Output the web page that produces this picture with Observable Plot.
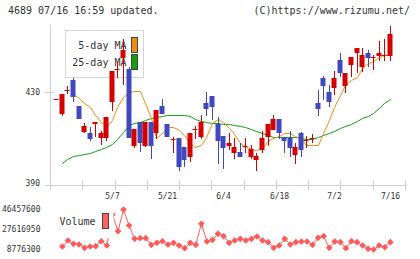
<!DOCTYPE html>
<html><head><meta charset="utf-8">
<script src="https://cdn.jsdelivr.net/npm/d3@7"></script>
<script src="https://cdn.jsdelivr.net/npm/@observablehq/plot@0.6"></script>
<style>
body{margin:0;background:#fff;width:420px;height:259px;overflow:hidden;font-family:"DejaVu Sans Mono",monospace;}
#title{position:relative;height:20px;font-size:10px;line-height:10px;color:#333;}
#title span{position:absolute;top:6px;white-space:pre;}
#title .l{left:8px;}
#title .r{right:10px;}
svg{display:block;}
</style></head><body>
<div id="title"><span class="l">4689 07/16 16:59 updated.</span><span class="r">(C)https://www.rizumu.net/</span></div>
<div id="main"></div>
<div id="vol"></div>
<script>
// ---- data ----
const tickIdx = [10, 20, 30, 40, 50, 60];
const tickLabels = ["5/7", "5/21", "6/4", "6/18", "7/2", "7/16"];
const priceTicks = [390, 430];
const open = [426.8,420.3,430.9,435.3,423.8,412.5,411.8,415.8,409.6,409.6,425.7,440,445.1,440.1,406.3,416.7,406.3,416.7,411.8,423.8,415.9,409.2,409.9,405.8,401.6,413.6,410.4,425.3,428.2,415.9,410.7,406.4,403.3,403.5,406.3,401.6,400.1,404.5,410.4,413.3,418.1,410.1,409.9,402.3,411.8,408.9,409.6,425.3,436.3,430,431.9,444.1,432.8,441.9,447,441.1,447.3,445.2,446,446.3,446];
const close = [426.8,429.1,430.9,427.9,418,415.1,409.5,417,411.8,418.9,439.2,440,448.5,409.6,413.7,407.5,416.7,406.3,422.1,420.3,410.4,409.2,397.2,400.1,412,413.6,416.8,422.4,423.4,408.6,405.5,407.6,405.8,401.6,406.3,404.9,402,409.6,415.9,418.1,411.8,408.6,405.5,405.8,404.5,408.9,409.6,422.7,432.8,425.6,436.3,438.2,438.5,445.5,449.5,446.3,445.1,445.2,447.3,446.3,455.5];
const high = [426.8,429.1,432.6,436.3,423.8,416.4,414.8,417,412.9,418.9,439.2,443.3,453.3,441.1,413.7,416.7,416.7,416.7,422.1,426.8,415.9,410.1,409.9,405.8,412,415.1,419.9,430.1,428.2,418.9,410.7,412.1,409.8,407.7,409.8,406.7,403.1,412.9,415.9,419.9,418.1,410.1,412.9,407.4,412.5,410.7,411.4,430.9,437,433.1,439.2,447.3,438.5,445.5,449.5,449.5,448.5,446.3,452.4,453.3,459];
const low = [426.8,419.5,429.1,425.7,418,412,408.6,410.4,406.7,408.6,421.8,436,433.1,409.6,405.2,403.5,405.8,400.4,409.2,420.3,410.4,403.3,395.4,397.2,399.4,409.3,409.3,419.5,417.7,398.4,396.2,404.5,400.4,401.6,403.3,400.4,395.4,403.3,406.3,413.3,409.3,403.3,401.6,398.4,401.6,405.5,407.4,419.5,426.5,423.5,428.7,436.7,429.7,436.7,438.2,438.9,441.1,439.7,443.6,443.6,443.6];
const ma5 = [null,null,null,429.1,427.2,425.0,423.2,419.9,416.9,414.7,417.7,423.3,427.9,430.1,430.6,430.4,425.0,418.4,409.6,412.0,414.6,414.5,413.3,411.1,407.4,405.9,406.7,410.4,416.3,418.1,416.6,414.1,411.6,407.8,406.4,405.1,404.6,405.4,408.3,409.8,410.5,411.9,411.9,410.7,409.3,406.8,406.8,406.8,411.9,417.7,423.6,428.7,433.1,435.3,436.7,440.4,442.8,443.7,445.4,446.2,446.2];
const ma25 = [null,398.9,400.5,401.8,402.4,402.9,403.3,404.0,404.9,405.9,407.2,409.4,412.5,415.6,416.2,416.9,417.8,418.4,418.8,419.3,419.8,419.9,419.9,419.9,419.3,418.2,417.1,416.7,416.4,416.2,416.0,415.8,415.3,414.9,414.5,413.6,412.7,411.9,411.0,410.3,410.4,410.4,410.1,410.0,409.9,409.4,409.4,410.3,411.2,412.1,412.9,414.0,414.9,416.0,417.3,418.4,419.3,420.6,422.8,425.2,426.9];
const volume = [null,11600000,17250000,14150000,13490000,10380000,11600000,11890000,16590000,12540000,41700000,26020000,46457600,31390000,18860000,19420000,19420000,13200000,15090000,16590000,13490000,15090000,12540000,10000000,15090000,13200000,32990000,16310000,17910000,23570000,21310000,15090000,17250000,18860000,17250000,18860000,21020000,17250000,15650000,10380000,12540000,18860000,13490000,15650000,16310000,16310000,13200000,19800000,21310000,10380000,16310000,15650000,10000000,16590000,15650000,12540000,9430000,8776300,12540000,10940000,15650000];
const volTicks = [8776300, 27616950, 46457600];

// ---- build tables ----
const candles = open.map((o, i) => ({i, open: o, close: close[i], high: high[i], low: low[i], up: close[i] >= o}));
const ma5Data = ma5.map((v, i) => ({i, v})).filter(d => d.v != null);
const ma25Data = ma25.map((v, i) => ({i, v})).filter(d => d.v != null);
const volData = volume.map((v, i) => ({i, v})).filter(d => d.v != null);

const RED = "#d40000", BLUE = "#4048c0", ORANGE = "#f08c14", GREEN = "#10a010", VOL = "#ff5a5a", GRID = "#cfcfcf", TXT = "#333";
const xDomain = [-1.133, 62.72];
const gridTicks = d3.range(12).map(k => xDomain[0] + k * (xDomain[1] - xDomain[0]) / 11);
const font = {fontFamily: "DejaVu Sans Mono, monospace", fontSize: "8px", color: TXT, background: "transparent", overflow: "visible"};

const main = Plot.plot({
  width: 420, height: 183,
  marginLeft: 50, marginRight: 15, marginTop: 5, marginBottom: 18,
  style: font,
  x: {domain: xDomain, round: true, axis: null},
  y: {domain: [389.12, 459.45], round: true, axis: null},
  marks: [
    // legend box
    Plot.frame({fill: "white", stroke: "#d6d6d6", insetLeft: 15, insetRight: 262, insetTop: 5, insetBottom: 108}),
    Plot.text(["5-day MA"], {text: d => d, frameAnchor: "top-left", dx: 76, dy: 20.5, textAnchor: "end", lineAnchor: "middle", fontSize: 10, fill: TXT}),
    Plot.text(["25-day MA"], {text: d => d, frameAnchor: "top-left", dx: 76, dy: 37.5, textAnchor: "end", lineAnchor: "middle", fontSize: 10, fill: TXT}),
    Plot.frame({fill: ORANGE, stroke: "#444", insetLeft: 81, insetRight: 268, insetTop: 12, insetBottom: 133}),
    Plot.frame({fill: GREEN, stroke: "#444", insetLeft: 81, insetRight: 268, insetTop: 29, insetBottom: 116}),
    // axes
    Plot.ruleX([xDomain[0]], {stroke: GRID, insetBottom: -5}),
    Plot.ruleY([389.12], {stroke: GRID, insetLeft: -5, insetRight: -2}),
    Plot.ruleX(gridTicks, {stroke: GRID, insetTop: 155, insetBottom: -5}),
    Plot.ruleY([430], {x1: xDomain[0], x2: xDomain[0], stroke: GRID, insetLeft: -5, insetRight: -4}),
    Plot.axisY(priceTicks, {anchor: "left", tickSize: 0, tickPadding: 10.5, label: null, fontSize: 8}),
    Plot.axisX(tickIdx, {anchor: "bottom", tickSize: 0, tickPadding: 8, label: null, fontSize: 8, tickFormat: d => tickLabels[tickIdx.indexOf(d)]}),
    // moving averages
    Plot.line(ma25Data, {x: "i", y: "v", stroke: GREEN, strokeWidth: 1}),
    Plot.line(ma5Data, {x: "i", y: "v", stroke: ORANGE, strokeWidth: 1}),
    // candles
    Plot.ruleX(candles, {x: "i", y1: "low", y2: "high", stroke: d => d.up ? RED : BLUE}),
    Plot.rect(candles.filter(d => d.open !== d.close), {x1: "i", x2: "i", y1: "open", y2: "close", insetLeft: -2.5, insetRight: -2.5, fill: d => d.up ? RED : BLUE}),
    Plot.ruleY(candles.filter(d => d.open === d.close), {x1: "i", x2: "i", y: "close", insetLeft: -2.5, insetRight: -2.5, stroke: RED})
  ]
});
main.style.color = TXT;
document.getElementById("main").appendChild(main);

const vol = Plot.plot({
  width: 420, height: 56,
  marginLeft: 50, marginRight: 15, marginTop: 6, marginBottom: 10,
  style: font,
  x: {domain: xDomain, axis: null},
  y: {domain: [volTicks[0], volTicks[2]], axis: null},
  marks: [
    Plot.axisY(volTicks, {anchor: "left", tickSize: 0, tickPadding: 10, label: null, fontSize: 8, tickFormat: d => String(d)}),
    Plot.line(volData, {x: "i", y: "v", stroke: VOL, strokeWidth: 1}),
    Plot.dot(volData, {x: "i", y: "v", symbol: "diamond2", r: 3, fill: VOL, stroke: "none"}),
    Plot.frame({fill: "white", stroke: "none", insetLeft: 5, insetRight: 292, insetTop: -4, insetBottom: 11.5}),
    Plot.text(["Volume"], {text: d => d, frameAnchor: "top-left", dx: 45, dy: 12.7, textAnchor: "end", lineAnchor: "middle", fontSize: 10, fill: TXT}),
    Plot.frame({fill: "#ff6060", stroke: "#444", insetLeft: 52, insetRight: 297, insetTop: 4, insetBottom: 21})
  ]
});
vol.style.color = TXT;
document.getElementById("vol").appendChild(vol);
</script>
</body></html>
